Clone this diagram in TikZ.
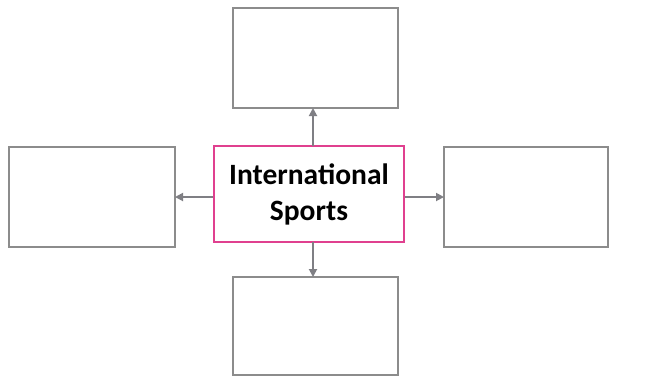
\documentclass[tikz,border=0pt]{standalone}
\usepackage{fontspec}
\setmainfont{Carlito}
\usetikzlibrary{arrows.meta}
\definecolor{boxgray}{HTML}{8C8C8C}
\definecolor{arrgray}{HTML}{7F7F84}
\definecolor{pinkb}{HTML}{E0408F}
\begin{document}
\begin{tikzpicture}[x=1pt,y=-1pt,
  emptybox/.style={draw=boxgray,line width=1.8pt,fill=white},
  link/.style={draw=arrgray,line width=1.8pt,-{Triangle[length=8pt,width=8pt]}}]
\useasboundingbox (0,0) rectangle (655,376);
\fill[white] (0,0) rectangle (655,376);
\draw[emptybox] (233,8) rectangle (398,108);
\coordinate (topb) at (313,108);
\draw[emptybox] (9,147) rectangle (175,247);
\coordinate (leftb) at (175,197);
\draw[emptybox] (444,147) rectangle (608,247);
\coordinate (rightb) at (444,197);
\draw[emptybox] (233,277) rectangle (398,375);
\coordinate (botb) at (313,277);
\node[draw=pinkb,line width=1.8pt,fill=white,minimum width=190pt,minimum height=96pt,inner sep=0pt,align=center,font=\bfseries\fontsize{29.5}{36}\selectfont] (center) at (309,194) {International\\Sports};
\draw[link] (313,146) -- (topb);
\draw[link] (313,242) -- (botb);
\draw[link] (center.west |- leftb) -- (leftb);
\draw[link] (center.east |- rightb) -- (rightb);
\end{tikzpicture}
\end{document}
